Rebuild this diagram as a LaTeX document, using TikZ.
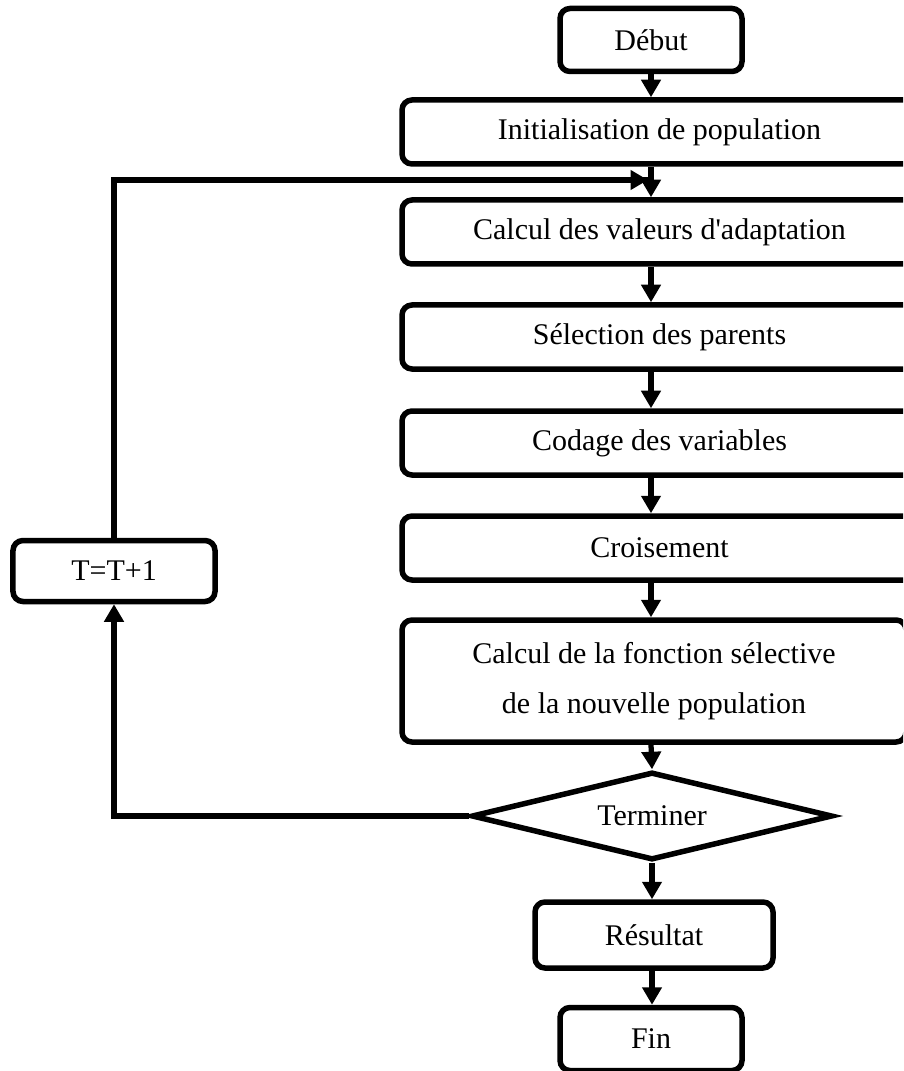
\documentclass[tikz,border=0pt]{standalone}
\usepackage{fontspec}
\setmainfont{Liberation Serif}
\usepackage{tikz}
\usetikzlibrary{
  arrows.meta,
  positioning,
  shapes.geometric
}

\begin{document}
\begin{tikzpicture}[
  x=0.4pt,
  y=-0.4pt,
  font=\fontsize{12}{14.5}\selectfont,
  box/.style={
    draw=black,
    rounded corners=4pt,
    line width=2.2pt,
    align=center,
    inner sep=0pt
  },
  terminal/.style={box,minimum width=72.8pt,minimum height=25.2pt},
  process/.style={box,minimum width=206pt,minimum height=25.6pt},
  decision/.style={
    diamond,
    draw=black,
    line width=2.2pt,
    aspect=4.1,
    inner sep=0pt,
    minimum width=144.4pt,
    minimum height=35.2pt
  },
  flow/.style={
    -{Triangle[length=7pt,width=7.6pt]},
    draw=black,
    line width=2.1pt
  },
  loopline/.style={draw=black,line width=2.1pt}
]
\path[use as bounding box,clip] (0,0) rectangle (903,1071);

\node[terminal] (debut) at (651,40) {Début};
\node[process] (init) at (659.5,132) {Initialisation de population};
\node[process] (fitness) at (659.5,232) {Calcul des valeurs d\textquotesingle adaptation};
\node[process] (parents) at (659.5,337) {Sélection des parents};
\node[process] (coding) at (659.5,443) {Codage des variables};
\node[process] (cross) at (659.5,548) {Croisement};
\node[box,minimum width=201.6pt,minimum height=48.8pt] (newpop) at (654,681)
  {Calcul de la fonction sélective\\[5.5pt]de la nouvelle population};
\node[decision] (term) at (652,816) {Terminer};
\node[box,minimum width=95.2pt,minimum height=26.4pt] (result) at (654,935) {Résultat};
\node[terminal] (fin) at (651,1039) {Fin};
\node[box,minimum width=80.8pt,minimum height=24.4pt] (incr) at (114,571) {T=T+1};

\coordinate (back) at (648,180);

\draw[flow] (debut) -- (debut |- init.north);
\draw[flow] (debut |- init.south) -- (debut |- fitness.north);
\draw[flow] (debut |- fitness.south) -- (debut |- parents.north);
\draw[flow] (debut |- parents.south) -- (debut |- coding.north);
\draw[flow] (debut |- coding.south) -- (debut |- cross.north);
\draw[flow] (debut |- cross.south) -- (debut |- newpop.north);
\draw[flow] (debut |- newpop.south) -- (term.north);
\draw[flow] (term.south) -- (term.south |- result.north);
\draw[flow] (term.south |- result.south) -- (term.south |- fin.north);

\draw[flow] (term.west) -| (incr.south);
\draw[loopline] (incr.north) |- (back);
\draw[flow] (incr.north |- back) -- (back);
\end{tikzpicture}
\end{document}
